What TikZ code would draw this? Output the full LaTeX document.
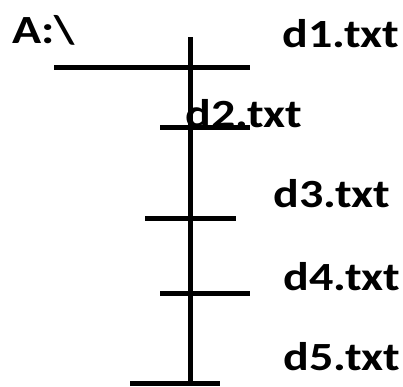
\documentclass[tikz,border=0pt]{standalone}
\usepackage{fontspec}
\setmainfont{Carlito}
\begin{document}
\begin{tikzpicture}[x=1pt,y=-1pt,
  bar/.style={line width=5pt,black},
  lbl/.style={font=\bfseries\fontsize{40}{44}\selectfont,inner sep=0pt,anchor=base west,xscale=1.2}]
\useasboundingbox (0,0) rectangle (403,386);
\coordinate (vt) at (190,37);
\coordinate (vb) at (190,386);
\draw[bar] (vt) -- (vb);
\coordinate (h1a) at (54,67);  \coordinate (h1b) at (250,67);
\coordinate (h2a) at (160,127); \coordinate (h2b) at (250,127);
\coordinate (h3a) at (145,218); \coordinate (h3b) at (236,218);
\coordinate (h4a) at (160,293); \coordinate (h4b) at (250,293);
\coordinate (h5a) at (130,383); \coordinate (h5b) at (220,383);
\draw[bar] (h1a) -- (h1b);
\draw[bar] (h2a) -- (h2b);
\draw[bar] (h3a) -- (h3b);
\draw[bar] (h4a) -- (h4b);
\draw[bar] (h5a) -- (h5b);
\node[lbl] (root) at (12,43) {A:\textbackslash};
\node[lbl] (d1) at (282,47) {d1.txt};
\node[lbl] (d2) at (185,127) {d2.txt};
\node[lbl] (d3) at (273,207) {d3.txt};
\node[lbl] (d4) at (283,290) {d4.txt};
\node[lbl] (d5) at (283,370) {d5.txt};
\end{tikzpicture}
\end{document}
